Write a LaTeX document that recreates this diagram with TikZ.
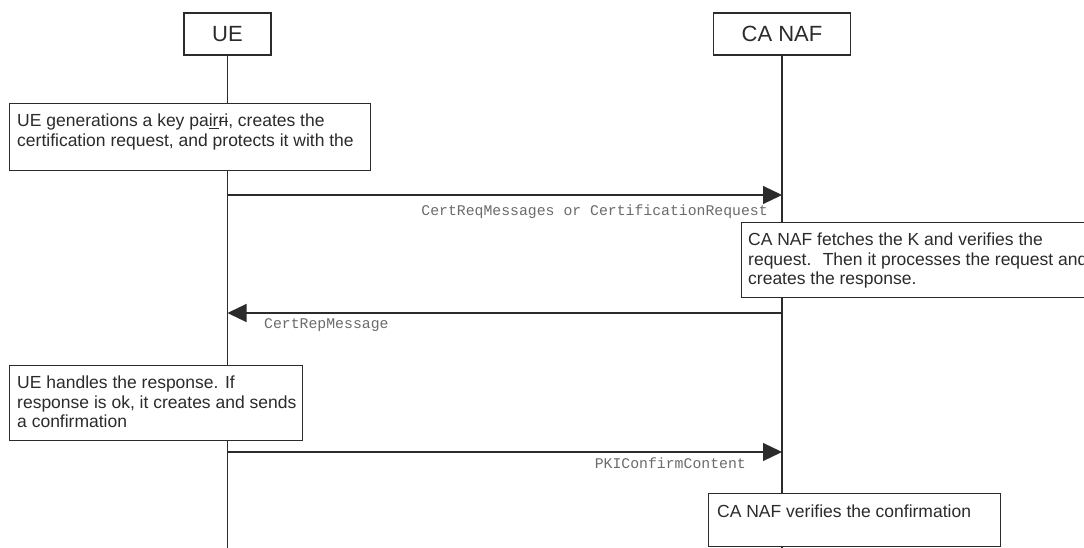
\documentclass[tikz,border=0pt]{standalone}
\usepackage{fontspec}
\setmainfont{Liberation Sans}
\setmonofont{Liberation Mono}
\usetikzlibrary{arrows.meta}
\definecolor{ink}{HTML}{2B2B2B}
\newsavebox\mystrikebox
\newcommand\mystrike[1]{\sbox\mystrikebox{#1}\rlap{\raisebox{0.3em}{\rule{\wd\mystrikebox}{0.06em}}}\usebox\mystrikebox}
\newcommand\myunder[1]{\underline{#1}}
\begin{document}
\begin{tikzpicture}[x=1pt,y=-1pt,
  lifeline/.style={draw=ink,line width=1.2pt},
  head/.style={draw=ink,line width=1.2pt,fill=white,minimum height=42pt,inner sep=0pt,font=\fontsize{22}{26}\selectfont,text=ink},
  notebox/.style={draw=ink,line width=1.2pt,fill=white,anchor=north west,inner sep=0pt},
  notetext/.style={anchor=north west,inner sep=0pt,align=left,font=\fontsize{17.5}{19.5}\selectfont,text=ink},
  msg/.style={draw=ink,line width=1.2pt,-{Triangle[length=19pt,width=18pt]}},
  lbl/.style={inner sep=0pt,font=\ttfamily\fontsize{14.8}{16}\selectfont,text=ink!70}]
\clip (0,0) rectangle (1084,548);
\fill[white] (0,0) rectangle (1084,548);
% heads and lifelines
\node[head,minimum width=87pt] (ue) at (227.5,34) {UE};
\node[head,minimum width=137pt] (ca) at (782,34) {CA NAF};
\coordinate (ueEnd) at (227.5,548);
\coordinate (caEnd) at (782,548);
\draw[lifeline] (ue.south) -- (ueEnd);
\draw[lifeline] (ca.south) -- (caEnd);
% message levels
\coordinate (y1) at (0,195);
\coordinate (y2) at (0,313);
\coordinate (y3) at (0,452);
\draw[msg] (ue |- y1) -- (ca |- y1);
\draw[msg] (ca |- y2) -- (ue |- y2);
\draw[msg] (ue |- y3) -- (ca |- y3);
\node[lbl,anchor=east] (l1) at (768,212) {CertReqMessages or CertificationRequest};
\node[lbl,anchor=west] (l2) at (264,325) {CertRepMessage};
\node[lbl,anchor=east] (l3) at (746,463) {PKIConfirmContent};
% notes
\node[notebox,minimum width=361pt,minimum height=67pt] (n1) at (9,103) {};
\node[notetext] (t1) at ([xshift=8pt,yshift=-11pt]n1.north west) {UE generations a key pa\myunder{ir}\mystrike{ri}, creates the\\certification request, and protects it with the};
\node[notebox,minimum width=360pt,minimum height=75pt] (n2) at (741,222) {};
\node[notetext] (t2) at ([xshift=7pt,yshift=-11pt]n2.north west) {CA NAF fetches the K and verifies the\\request.~ Then it processes the request and\\creates the response.};
\node[notebox,minimum width=293pt,minimum height=75pt] (n3) at (9,365) {};
\node[notetext] (t3) at ([xshift=8pt,yshift=-11pt]n3.north west) {UE handles the response. If\\response is ok, it creates and sends\\a confirmation};
\node[notebox,minimum width=292pt,minimum height=53pt] (n4) at (708,493) {};
\node[notetext] (t4) at ([xshift=9pt,yshift=-12pt]n4.north west) {CA NAF verifies the confirmation};
\end{tikzpicture}
\end{document}
